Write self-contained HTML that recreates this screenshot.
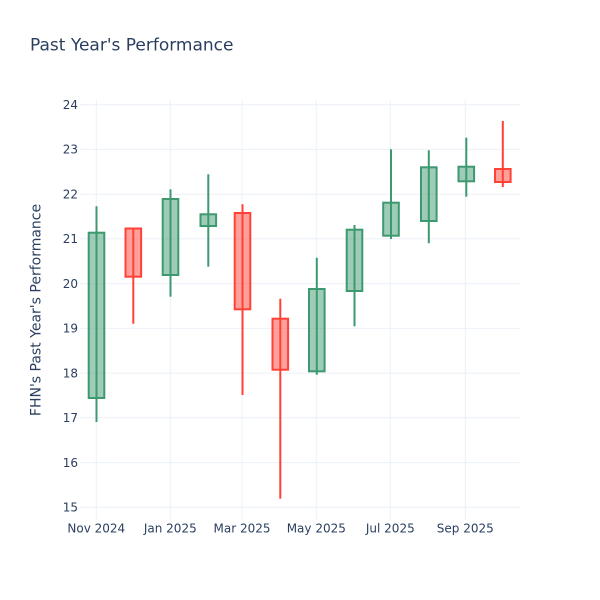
<!DOCTYPE html>
<html>
<head>
<meta charset="utf-8">
<style>
  html, body { margin: 0; padding: 0; background: #fff; }
  svg { display: block; }
  text { font-family: "DejaVu Sans", "Liberation Sans", sans-serif; fill: #2a3f5f; }
</style>
</head>
<body>
<svg width="600" height="600" viewBox="0 0 600 600" xmlns="http://www.w3.org/2000/svg">
  <rect x="0" y="0" width="600" height="600" fill="#ffffff"/>
  <!-- gridlines -->
  <g stroke="#ebf0f8" stroke-width="1">
    <line x1="80" x2="520" y1="104.7" y2="104.7"/>
    <line x1="80" x2="520" y1="149.4" y2="149.4"/>
    <line x1="80" x2="520" y1="194.2" y2="194.2"/>
    <line x1="80" x2="520" y1="238.9" y2="238.9"/>
    <line x1="80" x2="520" y1="283.6" y2="283.6"/>
    <line x1="80" x2="520" y1="328.4" y2="328.4"/>
    <line x1="80" x2="520" y1="373.1" y2="373.1"/>
    <line x1="80" x2="520" y1="417.8" y2="417.8"/>
    <line x1="80" x2="520" y1="462.6" y2="462.6"/>
    <line x1="80" x2="520" y1="507.3" y2="507.3"/>
    <line x1="96.3" x2="96.3" y1="100" y2="520"/>
    <line x1="170.3" x2="170.3" y1="100" y2="520"/>
    <line x1="242" x2="242" y1="100" y2="520"/>
    <line x1="316.3" x2="316.3" y1="100" y2="520"/>
    <line x1="390.3" x2="390.3" y1="100" y2="520"/>
    <line x1="465.3" x2="465.3" y1="100" y2="520"/>
  </g>

  <!-- candles -->
  <g stroke-width="2">
    <!-- green -->
    <g stroke="#3d9970" fill="rgba(61,153,112,0.5)">
      <line x1="96.5" x2="96.5" y1="206.3" y2="422"/>
      <rect x="88.7" y="232.7" width="15.6" height="165.3"/>
      <line x1="170.5" x2="170.5" y1="189.3" y2="296.7"/>
      <rect x="162.7" y="199" width="15.6" height="76"/>
      <line x1="208.3" x2="208.3" y1="174.3" y2="266.7"/>
      <rect x="200.5" y="214.3" width="15.6" height="11.7"/>
      <line x1="316.8" x2="316.8" y1="257.7" y2="374.7"/>
      <rect x="309" y="289" width="15.6" height="82.3"/>
      <line x1="354.5" x2="354.5" y1="225" y2="326.3"/>
      <rect x="346.7" y="229.7" width="15.6" height="61.3"/>
      <line x1="391" x2="391" y1="149.3" y2="239"/>
      <rect x="383.2" y="202.7" width="15.6" height="33"/>
      <line x1="428.8" x2="428.8" y1="150.3" y2="243.3"/>
      <rect x="421" y="167.3" width="15.6" height="53.7"/>
      <line x1="466.3" x2="466.3" y1="137.7" y2="196.7"/>
      <rect x="458.5" y="166.7" width="15.6" height="14.6"/>
    </g>
    <!-- red -->
    <g stroke="#ff4136" fill="rgba(255,65,54,0.5)">
      <line x1="133.3" x2="133.3" y1="228" y2="323.7"/>
      <rect x="125.5" y="228.5" width="15.6" height="48.2"/>
      <line x1="242.5" x2="242.5" y1="204.3" y2="395"/>
      <rect x="234.7" y="213" width="15.6" height="96.3"/>
      <line x1="280.3" x2="280.3" y1="298.7" y2="498.7"/>
      <rect x="272.5" y="318.7" width="15.6" height="51"/>
      <line x1="502.8" x2="502.8" y1="121" y2="187"/>
      <rect x="495" y="169" width="15.6" height="13"/>
    </g>
  </g>

  <!-- y tick labels -->
  <g font-size="12" text-anchor="end">
    <text x="78" y="108.9">24</text>
    <text x="78" y="153.6">23</text>
    <text x="78" y="198.4">22</text>
    <text x="78" y="243.1">21</text>
    <text x="78" y="287.8">20</text>
    <text x="78" y="332.6">19</text>
    <text x="78" y="377.3">18</text>
    <text x="78" y="422">17</text>
    <text x="78" y="466.8">16</text>
    <text x="78" y="511.5">15</text>
  </g>

  <!-- x tick labels -->
  <g font-size="12" text-anchor="middle">
    <text x="96.3" y="532.7">Nov 2024</text>
    <text x="170.3" y="532.7">Jan 2025</text>
    <text x="242" y="532.7">Mar 2025</text>
    <text x="316.3" y="532.7">May 2025</text>
    <text x="390.3" y="532.7">Jul 2025</text>
    <text x="465.3" y="532.7">Sep 2025</text>
  </g>

  <!-- axis title -->
  <text font-size="14" text-anchor="middle" transform="translate(40.5,310) rotate(-90)">FHN's Past Year's Performance</text>

  <!-- title -->
  <text x="30" y="50.5" font-size="17">Past Year's Performance</text>
</svg>
</body>
</html>
